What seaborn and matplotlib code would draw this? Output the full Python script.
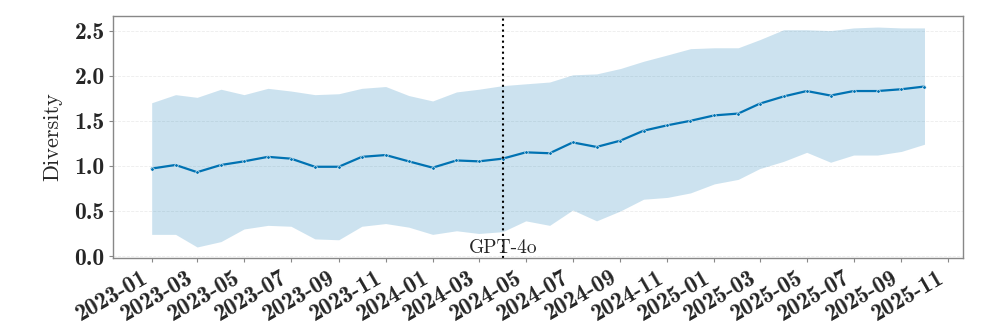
import matplotlib
matplotlib.use("Agg")
import matplotlib.pyplot as plt
import matplotlib.dates as mdates
import numpy as np
import pandas as pd
import seaborn as sns

# monthly diversity (mean and band), 2023-01 .. 2025-10
months = pd.date_range("2023-01-01", "2025-10-01", freq="MS")
div_mean = [0.97, 1.01, 0.93, 1.01, 1.05, 1.10, 1.08, 0.99, 0.99, 1.10, 1.12, 1.05,
            0.98, 1.06, 1.05, 1.08, 1.15, 1.14, 1.26, 1.21, 1.28, 1.39, 1.45, 1.50,
            1.56, 1.58, 1.69, 1.77, 1.83, 1.78, 1.83, 1.83, 1.85, 1.88]
div_upper = [1.70, 1.79, 1.76, 1.85, 1.79, 1.86, 1.83, 1.79, 1.80, 1.86, 1.88, 1.78,
             1.72, 1.82, 1.85, 1.89, 1.91, 1.93, 2.01, 2.02, 2.08, 2.16, 2.23, 2.30,
             2.31, 2.31, 2.40, 2.51, 2.51, 2.50, 2.53, 2.54, 2.53, 2.53]
div_lower = [0.24, 0.24, 0.10, 0.16, 0.30, 0.34, 0.33, 0.19, 0.18, 0.33, 0.36, 0.32,
             0.24, 0.28, 0.25, 0.27, 0.39, 0.34, 0.51, 0.39, 0.50, 0.63, 0.65, 0.70,
             0.80, 0.85, 0.97, 1.05, 1.15, 1.04, 1.12, 1.12, 1.16, 1.24]
event_date = "2024-04-01"
event_label = "GPT-4o"

df = pd.DataFrame({"month": months, "diversity": div_mean})

sns.set_style("white")
plt.rcParams["axes.unicode_minus"] = False
blue = "#0072B2"

fig = plt.figure(figsize=(9.96, 3.27), dpi=100)
ax = fig.add_axes([0.1135, 0.211, 0.8535, 0.74])

ax.fill_between(months, div_lower, div_upper, color=blue, alpha=0.2, linewidth=0)
sns.lineplot(data=df, x="month", y="diversity", ax=ax, color=blue, linewidth=1.6,
             marker="o", markersize=2.5, markeredgecolor="white", markeredgewidth=0.4)

ax.axvline(pd.Timestamp(event_date), color="black", linestyle=":", linewidth=1.5)
ax.text(pd.Timestamp(event_date), 0.006, event_label, transform=ax.get_xaxis_transform(),
        ha="center", va="bottom", fontsize=14, family="cmr10")

ax.xaxis.set_major_locator(mdates.MonthLocator(bymonth=[1, 3, 5, 7, 9, 11]))
ax.xaxis.set_major_formatter(mdates.DateFormatter("%Y-%m"))
ax.set_yticks([0.0, 0.5, 1.0, 1.5, 2.0, 2.5])
ax.set_yticklabels(["0.0", "0.5", "1.0", "1.5", "2.0", "2.5"])

for lab in ax.get_xticklabels():
    lab.set_rotation(30)
    lab.set_ha("right")
    lab.set_family("cmb10")
    lab.set_fontsize(17)
for lab in ax.get_yticklabels():
    lab.set_family("cmb10")
    lab.set_fontsize(17)

ax.tick_params(axis="both", which="major", length=3, width=0.8, color="#888888",
               bottom=True, left=True, pad=3)
ax.set_xlabel("")
ax.set_ylabel("Diversity", family="cmr10", fontsize=16, labelpad=9)

ax.grid(axis="y", linestyle="--", linewidth=0.6, color="#ececec")
ax.grid(axis="x", visible=False)
for sp in ax.spines.values():
    sp.set_color("#888888")
    sp.set_linewidth(1.0)

fig.savefig("out.png", dpi=100)
